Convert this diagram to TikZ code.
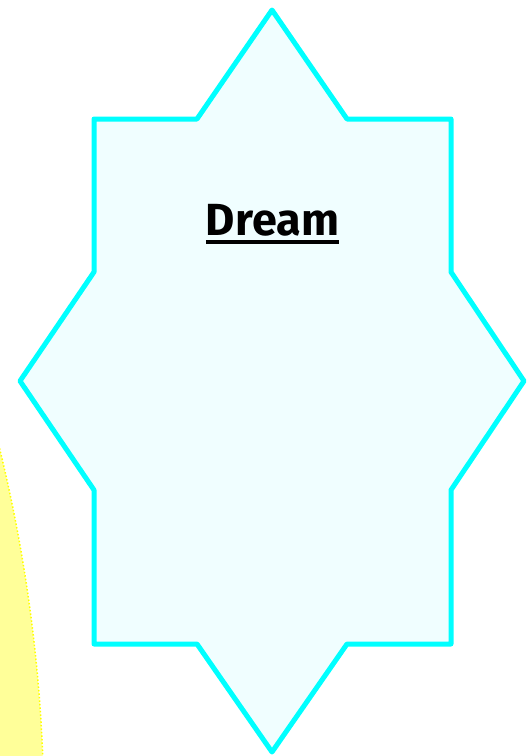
\documentclass[tikz,border=0pt]{standalone}
\usepackage{fontspec}
\newfontfamily\dreamfont{Fira Sans}
\definecolor{starline}{HTML}{00FFFF}
\definecolor{starfill}{HTML}{F0FEFF}
\definecolor{sunfill}{HTML}{FFFF99}
\definecolor{sunline}{HTML}{FFFF00}
\tikzset{
  starshape/.style={draw=starline, fill=starfill, line width=5pt, line join=round},
  sunshape/.style={fill=sunfill},
  sunedge/.style={draw=sunline, line width=1.5pt, dotted},
  titletext/.style={font=\dreamfont\bfseries\fontsize{45}{48}\selectfont, inner sep=0pt, anchor=base}
}
\begin{document}
\begin{tikzpicture}[x=1pt,y=-1pt]
\useasboundingbox (0,0) rectangle (529,756);
% yellow circle on the left
\begin{scope}
\clip (0,0) rectangle (529,756);
\fill[sunshape] (-1511,819) circle (1555);
\draw[sunedge] (-1511,819) circle (1555);
\end{scope}
% star
\draw[starshape] (272,10) -- (347,119) -- (451,119) -- (451,272) -- (524,381) -- (451,490)
  -- (451,644) -- (347,644) -- (272,752) -- (197,644) -- (94,644) -- (94,490)
  -- (20,381) -- (94,272) -- (94,119) -- (197,119) -- cycle;
% title
\node[titletext] (title) at (272.5,235) {Dream};
\coordinate (ulA) at ([yshift=-7pt]title.base west);
\coordinate (ulB) at ([yshift=-7pt]title.base east);
\draw[line width=3.5pt] (ulA) -- (ulB);
\end{tikzpicture}
\end{document}
